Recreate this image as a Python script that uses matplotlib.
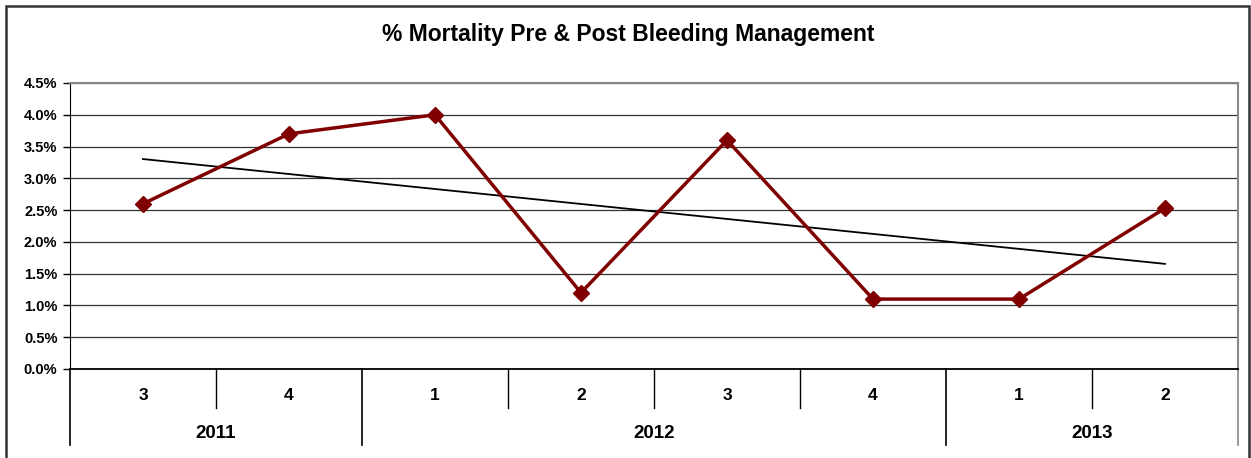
import numpy as np
import matplotlib.pyplot as plt
from matplotlib.patches import Rectangle

# data
quarters = ["3", "4", "1", "2", "3", "4", "1", "2"]
years = ["2011", "2012", "2013"]
quarters_per_year = [2, 4, 2]
mortality = [2.6, 3.7, 4.0, 1.2, 3.6, 1.1, 1.1, 2.53]
y_ticks = [0.0, 0.5, 1.0, 1.5, 2.0, 2.5, 3.0, 3.5, 4.0, 4.5]

W, H = 1251, 458
plt.rcParams['font.family'] = ['Liberation Sans', 'DejaVu Sans']

fig = plt.figure(figsize=(W / 100, H / 100), dpi=100)

# plot area in pixels
left, right, top, bottom = 70, 1238, 83, 369
ax = fig.add_axes([left / W, 1 - bottom / H, (right - left) / W, (bottom - top) / H])

x = np.arange(len(mortality))

# linear trend line (like Excel's)
slope, inter = np.polyfit(x + 1, mortality, 1)
ax.plot(x, slope * (x + 1) + inter, color="black", lw=1.3, zorder=3)

ax.plot(x, mortality, color="#800000", lw=2.5, marker="D", markersize=8.5,
        markerfacecolor="#800000", markeredgecolor="#800000", zorder=4)

ax.set_xlim(-0.5, len(mortality) - 0.5)
ax.set_ylim(0, 4.5)
ax.set_yticks(y_ticks)
ax.set_yticklabels([f"{v:.1f}%" for v in y_ticks], fontsize=10.5, fontweight="bold")
ax.tick_params(axis="y", length=5, width=1, color="black", pad=4)
ax.set_xticks([])

ax.yaxis.grid(True, color="#333333", lw=0.9)
ax.set_axisbelow(True)

ax.spines["left"].set_color("black")
ax.spines["bottom"].set_color("black")
ax.spines["bottom"].set_linewidth(1.3)
ax.spines["top"].set_color("#888888")
ax.spines["top"].set_linewidth(1.5)
ax.spines["right"].set_visible(False)

# category axis with year groups
trans = ax.get_xaxis_transform()
h_px = bottom - top
short_y = -(408 - bottom) / h_px
long_y = -(445 - bottom) / h_px
cat_y = -(396 - bottom) / h_px
year_y = -(434 - bottom) / h_px

for i, q in enumerate(quarters):
    ax.text(i, cat_y, q, transform=trans, ha="center", va="center",
            fontsize=12.5, fontweight="bold")

bounds = np.cumsum([0] + quarters_per_year) - 0.5
for k in range(len(mortality) + 1):
    xb = k - 0.5
    if xb in bounds:
        ax.plot([xb, xb], [0, long_y], transform=trans, clip_on=False,
                color="#888888" if k == len(mortality) else "black", lw=1.2)
    else:
        ax.plot([xb, xb], [0, short_y], transform=trans, clip_on=False,
                color="black", lw=1.0)
ax.plot([bounds[-1], bounds[-1]], [1, 0], transform=trans, clip_on=False,
        color="#888888", lw=1.5)

for j, yr in enumerate(years):
    xc = (bounds[j] + bounds[j + 1]) / 2
    ax.text(xc, year_y, yr, transform=trans, ha="center", va="center",
            fontsize=13.5, fontweight="bold")

fig.text(628 / W, 1 - 34 / H, "% Mortality Pre & Post Bleeding Management",
         ha="center", va="center", fontsize=16.5, fontweight="bold")

# outer chart frame
fig.patches.append(Rectangle((6 / W, -0.1), (1249 - 6) / W, 1.1 - 6 / H,
                             transform=fig.transFigure, fill=False,
                             edgecolor="#333333", lw=1.8))

fig.savefig("out.png", dpi=100)
